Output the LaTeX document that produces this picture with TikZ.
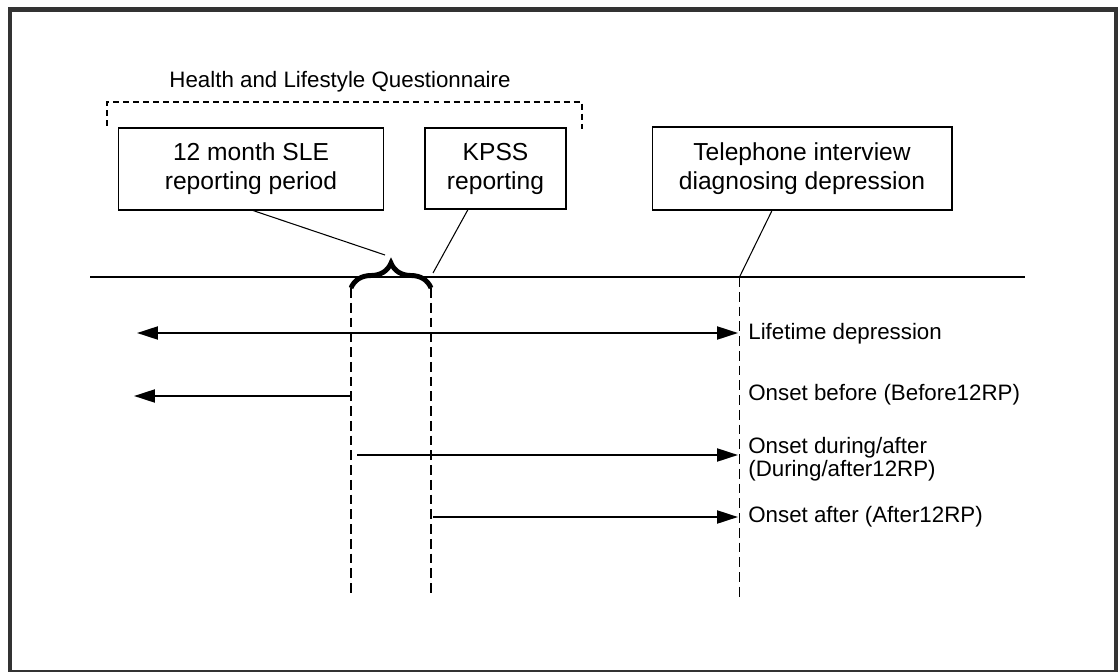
\documentclass[tikz,border=0pt]{standalone}
\usepackage{fontspec}
\setmainfont{Liberation Sans}
\usetikzlibrary{positioning, arrows.meta, decorations.pathreplacing}
\definecolor{myframe}{RGB}{51, 51, 51}

\begin{document}
\begin{tikzpicture}[
    x=0.02cm, y=-0.02cm,
    every node/.style   = {font=\fontsize{12.7}{13.2}\selectfont},
         boxNode/.style   = {rectangle, draw, align=center, line width=0.6pt, inner sep=0pt, font=\fontsize{14}{16.5}\selectfont},
         labelNode/.style = {anchor=west, align=left, inner sep=0pt},
         timeLine/.style  = {line width=0.8pt},
         tickLine/.style  = {line width=0.6pt, dash pattern=on 5.6pt off 2.8pt},
         hlqLine/.style   = {line width=0.6pt, dash pattern=on 3.4pt off 2.3pt},
         braceLine/.style = {line width=2.8pt, decorate, decoration={brace, amplitude=0.5cm}},
         pointer/.style   = {line width=0.6pt},
         myarrow/.style   = {line width=1.2pt, -{Triangle[length=0.42cm, width=0.26cm]}}
]
\useasboundingbox (0,0) rectangle (1118,672);
\draw[myframe, line width=2.8pt] (10,9.5) rectangle (1116,672);

% questionnaire bracket
\node[inner sep=0pt] (hlq) at (340,82) {Health and Lifestyle Questionnaire};
\draw[hlqLine] (107,126) -- (107,102) -- (582,102) -- (582,129);

% boxes
\node[boxNode, minimum width=5.3cm, minimum height=1.64cm] (sle) at (251,169) {12 month SLE\\reporting period};
\node[boxNode, minimum width=2.82cm, minimum height=1.62cm] (kpss) at (495.5,168.5) {KPSS\\reporting};
\node[boxNode, minimum width=6cm, minimum height=1.66cm] (phone) at (802,168.5) {Telephone interview\\diagnosing depression};

% time line
\coordinate (tstart) at (90,277);
\coordinate (tend) at (1025,277);
\draw[timeLine] (tstart) -- (tend);

\coordinate (slestart) at (351,288);
\coordinate (kpssstart) at (431,288);
\coordinate (phonedate) at (739.5,277);
\draw[braceLine] (slestart) -- (kpssstart);

\coordinate (bracetip) at (385,255);
\coordinate (kpsstip) at (433,273);
\draw[pointer] (sle.south) ++(2,0) -- (bracetip);
\draw[pointer] (kpss.south) ++(-27.5,0) -- (kpsstip);
\draw[pointer] (phone.south) ++(-30,0) -- (phonedate);

\draw[tickLine] (slestart) -- (351,595);
\draw[tickLine] (kpssstart) -- (431,595);
\draw[tickLine] (phonedate) -- (739.5,600);

% onset arrows
\node[labelNode] (lifetime) at (748,334) {Lifetime depression};
\node[labelNode] (before) at (748,395) {Onset before (Before12RP)};
\node[labelNode] (during) at (748,459) {Onset during/after\\(During/after12RP)};
\node[labelNode] (after) at (748,517) {Onset after (After12RP)};

\coordinate (lifeleft) at (137,333);
\coordinate (liferight) at (738,333);
\coordinate (beforefrom) at (350,396);
\coordinate (beforeto) at (134,396);
\coordinate (duringfrom) at (357,455);
\coordinate (duringto) at (738,455);
\coordinate (afterfrom) at (433,517);
\coordinate (afterto) at (738,517);

\draw[myarrow, {Triangle[length=0.42cm, width=0.26cm]}-{Triangle[length=0.42cm, width=0.26cm]}] (lifeleft) -- (liferight);
\draw[myarrow] (beforefrom) -- (beforeto);
\draw[myarrow] (duringfrom) -- (duringto);
\draw[myarrow] (afterfrom) -- (afterto);

\end{tikzpicture}
\end{document}
